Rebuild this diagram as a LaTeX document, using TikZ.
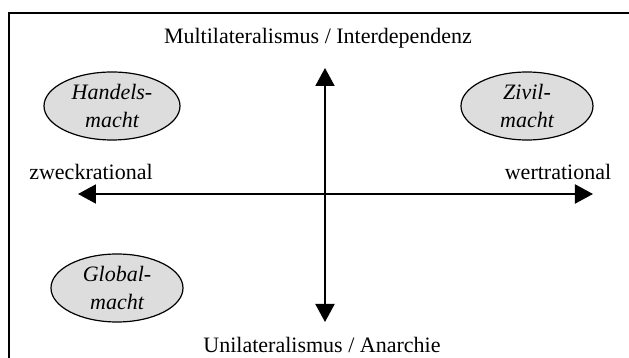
\documentclass[tikz,border=0pt]{standalone}
\usepackage{fontspec}
\setmainfont{Liberation Serif}
\usetikzlibrary{shapes.geometric,arrows.meta}
\definecolor{ellfill}{HTML}{DDDDDD}
\tikzset{
  frame/.style={line width=1pt},
  axis/.style={line width=1pt,{Triangle[length=9pt,width=9.5pt]}-{Triangle[length=9pt,width=9.5pt]}},
  power/.style={ellipse,draw,line width=0.6pt,fill=ellfill,inner sep=0pt,
    minimum width=68pt,minimum height=34pt,align=center,
    font=\fontsize{11}{14}\selectfont\itshape},
  lab/.style={inner sep=0pt,font=\fontsize{11}{13}\selectfont}
}
\begin{document}
\begin{tikzpicture}[x=0.5pt,y=-0.5pt]
\useasboundingbox (0,0) rectangle (629,358);
\draw[frame] (9,359) -- (9,13) -- (630,13);
\coordinate (top) at (325,68);
\coordinate (bot) at (325,322);
\coordinate (lft) at (78,194);
\coordinate (rgt) at (593,194);
\draw[axis] (bot) -- (top);
\draw[axis] (lft) -- (rgt);
\node[lab] (multi) at (318,38) {Multilateralismus / Interdependenz};
\node[lab] (uni) at (322,345) {Unilateralismus / Anarchie};
\node[lab] (zweck) at (91,172) {zweckrational};
\node[lab] (wert) at (558,172) {wertrational};
\node[power] (handel) at (112,106) {Handels-\\macht};
\node[power,minimum width=66pt] (zivil) at (527,106) {Zivil-\\macht};
\node[power,minimum width=66pt] (global) at (117,288) {Global-\\macht};
\end{tikzpicture}
\end{document}
